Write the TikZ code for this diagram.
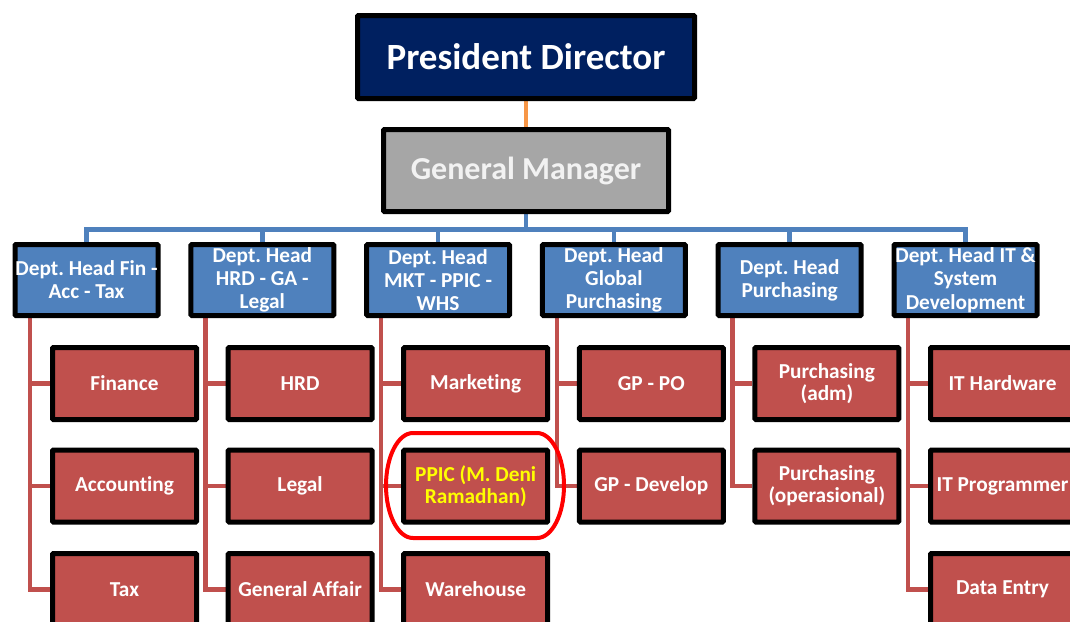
\documentclass[tikz,border=0pt]{standalone}
\usepackage{fontspec}
\setmainfont[Ligatures=NoCommon]{Carlito}
\usetikzlibrary{backgrounds}
\definecolor{navy}{HTML}{002060}
\definecolor{gmgray}{HTML}{A6A6A6}
\definecolor{headblue}{HTML}{4F81BD}
\definecolor{unitred}{HTML}{C0504D}
\definecolor{linkorange}{HTML}{F79646}
\definecolor{ringred}{HTML}{FF0000}
\definecolor{nameyellow}{HTML}{FFFF00}
\frenchspacing
\begin{document}
\begin{tikzpicture}[x=1pt,y=-1pt,
  box/.style={draw=black, line width=5pt, rounded corners=1pt, text=white,
    align=center, inner sep=0pt},
  topbox/.style={box, fill=navy, minimum width=337pt, minimum height=83pt,
    font=\fontsize{37}{44}\selectfont\bfseries},
  gmbox/.style={box, fill=gmgray, minimum width=285pt, minimum height=82pt,
    text=white!95!black, font=\fontsize{32}{38}\selectfont\bfseries},
  headbox/.style={box, fill=headblue, minimum width=143pt, minimum height=71pt,
    font=\fontsize{21.3}{23.2}\selectfont\bfseries},
  unitbox/.style={box, fill=unitred, minimum width=144pt, minimum height=72pt,
    font=\fontsize{21.3}{22}\selectfont\bfseries},
  blueline/.style={draw=headblue, line width=4.5pt},
  redline/.style={draw=unitred, line width=4.5pt},
  orangeline/.style={draw=linkorange, line width=4.5pt},
  ringline/.style={draw=ringred, line width=4pt},
]
\useasboundingbox (0,0) rectangle (1070,621);
\clip (0,0) rectangle (1070,621);

% top of the chart
\node[topbox] (pd) at (526,57) {President Director};
\node[gmbox] (gm) at (526,170.5) {General Manager};

% department heads
\node[headbox] (d1) at (86.5,280)  {Dept. Head Fin -\\Acc - Tax};
\node[headbox] (d2) at (262.3,280) {Dept. Head\\HRD - GA -\\Legal};
\node[headbox] (d3) at (438.1,280) {Dept. Head\\MKT - PPIC -\\WHS};
\node[headbox] (d4) at (613.9,280) {Dept. Head\\Global\\Purchasing};
\node[headbox] (d5) at (789.7,280) {Dept. Head\\Purchasing};
\node[headbox] (d6) at (965.5,280) {Dept. Head IT \&\\System\\Development};

% units under each department
\node[unitbox] (u11) at (124.5,383.5) {Finance};
\node[unitbox] (u12) at (124.5,486)   {Accounting};
\node[unitbox] (u13) at (124.5,589.5) {Tax};

\node[unitbox] (u21) at (300.1,383.5) {HRD};
\node[unitbox] (u22) at (300.1,486)   {Legal};
\node[unitbox] (u23) at (300.1,589.5) {General Affair};

\node[unitbox] (u31) at (475.7,383.5) {Marketing};
\node[unitbox, text=nameyellow] (u32) at (475.7,486) {PPIC (M. Deni\\Ramadhan)};
\node[unitbox] (u33) at (475.7,589.5) {Warehouse};

\node[unitbox] (u41) at (651.3,383.5) {GP - PO};
\node[unitbox] (u42) at (651.3,486)   {GP - Develop};

\node[unitbox] (u51) at (826.9,383.5) {Purchasing\\(adm)};
\node[unitbox] (u52) at (826.9,486)   {Purchasing\\(operasional)};

\node[unitbox] (u61) at (1002.5,383.5) {IT Hardware};
\node[unitbox] (u62) at (1002.5,486)   {IT Programmer};
\node[unitbox] (u63) at (1002.5,589.5) {Data Entry};

% highlight ring round the PPIC unit: flat top and bottom, elliptic ends
\draw[ringline] (413,433) -- (537,433)
  arc[start angle=-90, end angle=90, x radius=27, y radius=52.5]
  -- (413,538)
  arc[start angle=90, end angle=270, x radius=27, y radius=52.5] -- cycle;

% trunk points of the unit branches
\coordinate (t1) at (30,318);
\coordinate (t2) at (205.6,318);
\coordinate (t3) at (381.2,318);
\coordinate (t4) at (556.8,318);
\coordinate (t5) at (732.4,318);
\coordinate (t6) at (908,318);
\coordinate (bus) at (526,229.5);

\begin{scope}[on background layer]
  \draw[orangeline] (pd.south) -- (gm.north);
  \draw[blueline] (gm.south) -- (bus);
  \draw[blueline] (d1.north) |- (bus) -| (d6.north);
  \foreach \d in {d2,d3,d4,d5}
    \draw[blueline] (\d.north) -- (\d.north |- bus);
  \foreach \u in {u11,u12,u13} \draw[redline] (t1) |- (\u.west);
  \foreach \u in {u21,u22,u23} \draw[redline] (t2) |- (\u.west);
  \foreach \u in {u31,u32,u33} \draw[redline] (t3) |- (\u.west);
  \foreach \u in {u41,u42} \draw[redline] (t4) |- (\u.west);
  \foreach \u in {u51,u52} \draw[redline] (t5) |- (\u.west);
  \foreach \u in {u61,u62,u63} \draw[redline] (t6) |- (\u.west);
\end{scope}
\end{tikzpicture}
\end{document}
